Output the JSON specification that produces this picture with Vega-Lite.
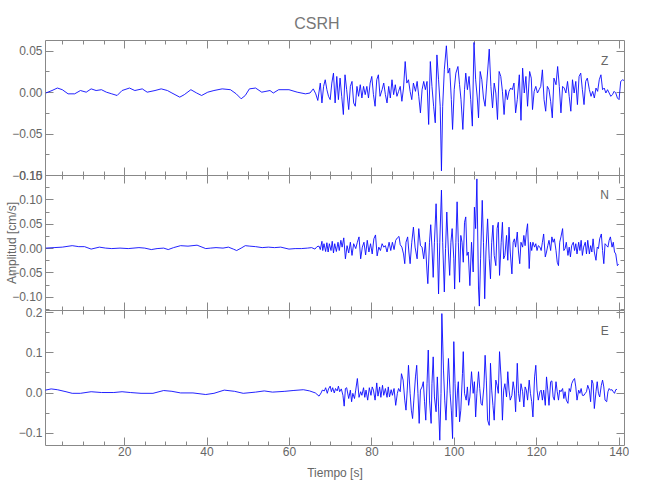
{
"$schema": "https://vega.github.io/schema/vega-lite/v6.json",
"background": "white",
"padding": {"left": 4, "top": 15, "right": 0, "bottom": 30},
"title": {"text": "CSRH", "fontSize": 16, "fontWeight": "normal", "color": "#777777", "font": "Liberation Sans", "anchor": "middle", "offset": 8},
"config": {
 "view": {"stroke": null},
 "font": "Liberation Sans",
 "axis": {"domainColor": "#888888", "tickColor": "#888888", "labelColor": "#666666", "titleColor": "#666666", "labelFont": "Liberation Sans", "titleFont": "Liberation Sans", "labelFontSize": 12, "titleFontSize": 12, "titleFontWeight": "normal", "grid": false, "domainWidth": 1, "tickWidth": 1}
},
"datasets": {
"Z": [
{"t":1,"v":-0.001},{"t":2.5,"v":0.002},{"t":3.8,"v":0.005},{"t":5,"v":0.003},{"t":6.4,"v":-0.002},{"t":8,"v":-0.002},{"t":9.4,"v":0.002},{"t":10.8,"v":0},{"t":12,"v":0.004},{"t":13.2,"v":0.002},{"t":14.5,"v":0.003},{"t":15.7,"v":0},{"t":17,"v":-0.002},{"t":18.3,"v":-0.004},{"t":19.5,"v":0.002},{"t":21.3,"v":0.005},{"t":22.6,"v":0.002},{"t":24.4,"v":0.004},{"t":25.6,"v":0},{"t":27.5,"v":0.002},{"t":29,"v":0.004},{"t":30.5,"v":0.002},{"t":31.6,"v":-0.001},{"t":33.5,"v":-0.006},{"t":34.6,"v":-0.003},{"t":36.2,"v":0.003},{"t":37.6,"v":-0.001},{"t":38.8,"v":-0.004},{"t":40.3,"v":0},{"t":41.8,"v":0.002},{"t":43.8,"v":0.004},{"t":45.8,"v":0.003},{"t":47.2,"v":-0.002},{"t":48.4,"v":-0.008},{"t":49.4,"v":-0.004},{"t":50.4,"v":0.004},{"t":51.9,"v":0.005},{"t":53.4,"v":0},{"t":55.4,"v":0.002},{"t":56.2,"v":-0.001},{"t":57.5,"v":0.003},{"t":60,"v":0.003},{"t":62,"v":0},{"t":64,"v":-0.002},{"t":65.1,"v":-0.001},{"t":65.9,"v":0.004},{"t":66.5,"v":-0.002},{"t":67,"v":-0.01},
{"t":67.6,"v":0.011},{"t":68.0,"v":-0.013},{"t":68.4,"v":0.007},{"t":68.8,"v":0.015},{"t":69.2,"v":0.003},{"t":69.6,"v":-0.005},{"t":70.0,"v":-0.009},{"t":70.4,"v":0.011},{"t":70.8,"v":0.023},{"t":71.2,"v":-0.013},{"t":71.6,"v":0.019},{"t":72.0,"v":-0.009},{"t":72.4,"v":0.017},{"t":72.8,"v":-0.005},{"t":73.2,"v":-0.027},{"t":73.6,"v":0.021},{"t":74.0,"v":0.003},{"t":74.5,"v":-0.021},{"t":74.9,"v":0.007},{"t":75.3,"v":0.013},{"t":75.7,"v":-0.013},{"t":76.1,"v":-0.017},{"t":76.5,"v":0.007},{"t":76.9,"v":-0.005},{"t":77.3,"v":0.009},{"t":77.7,"v":-0.007},{"t":78.1,"v":0.007},{"t":78.5,"v":-0.003},{"t":78.9,"v":0.007},{"t":79.3,"v":-0.007},{"t":79.7,"v":0.011},{"t":80.1,"v":0.019},{"t":80.5,"v":-0.003},{"t":80.9,"v":-0.017},{"t":81.3,"v":0.015},{"t":81.7,"v":0.021},{"t":82.1,"v":-0.005},{"t":82.6,"v":0.003},{"t":83.0,"v":0.011},{"t":83.4,"v":-0.003},{"t":83.8,"v":-0.013},{"t":84.2,"v":0.007},{"t":84.6,"v":-0.007},{"t":85.0,"v":0.015},{"t":85.4,"v":-0.003},{"t":85.8,"v":0.009},{"t":86.2,"v":-0.005},{"t":86.6,"v":0.001},{"t":87.0,"v":0.007},{"t":87.4,"v":-0.011},{"t":87.8,"v":0.005},{"t":88.2,"v":0.037},{"t":88.6,"v":0.011},{"t":89.0,"v":0.015},{"t":89.4,"v":0.001},{"t":89.8,"v":-0.009},{"t":90.2,"v":0.011},{"t":90.7,"v":0.001},{"t":91.1,"v":0.013},{"t":91.5,"v":-0.005},{"t":91.9,"v":-0.025},{"t":92.3,"v":0.003},{"t":92.7,"v":0.013},{"t":93.1,"v":0.003},{"t":93.5,"v":0.013},{"t":93.9,"v":-0.039},{"t":94.3,"v":0.037},{"t":94.7,"v":0.007},{"t":95.1,"v":-0.017},{"t":95.5,"v":-0.037},{"t":95.9,"v":0.045},{"t":96.3,"v":0.015},{"t":96.7,"v":-0.017},{"t":97.0,"v":-0.095},{"t":97.3,"v":-0.017},{"t":97.7,"v":0.027},{"t":98.2,"v":0.056},{"t":98.6,"v":0.023},{"t":99.0,"v":0.029},{"t":99.4,"v":-0.009},{"t":99.7,"v":-0.045},{"t":100.1,"v":0.003},{"t":100.5,"v":0.023},{"t":101.0,"v":0.031},{"t":101.4,"v":0.009},{"t":101.75,"v":-0.009},{"t":102.2,"v":-0.045},{"t":102.6,"v":0.003},{"t":102.9,"v":0.023},{"t":103.3,"v":0.003},{"t":103.7,"v":0.019},{"t":104.1,"v":-0.009},{"t":104.5,"v":-0.041},{"t":104.9,"v":0.06},{"t":105.3,"v":0.015},{"t":105.7,"v":-0.007},{"t":106.0,"v":-0.031},{"t":106.4,"v":0.025},{"t":106.8,"v":0.015},{"t":107.2,"v":-0.007},{"t":107.6,"v":-0.017},{"t":108.0,"v":0.011},{"t":108.6,"v":0.052},{"t":109.0,"v":0.007},{"t":109.4,"v":-0.019},{"t":109.8,"v":0.011},{"t":110.2,"v":-0.001},{"t":110.6,"v":-0.033},{"t":111.0,"v":0.025},{"t":111.4,"v":0.019},{"t":111.8,"v":0.001},{"t":112.2,"v":-0.027},{"t":112.6,"v":0.003},{"t":113.0,"v":-0.009},{"t":113.4,"v":0.001},{"t":113.8,"v":0.005},{"t":114.2,"v":0.003},{"t":114.6,"v":0.011},{"t":115.0,"v":-0.025},{"t":115.4,"v":-0.009},{"t":115.9,"v":0.021},{"t":116.3,"v":-0.034},{"t":116.7,"v":0.029},{"t":117.1,"v":-0.001},{"t":117.5,"v":0.019},{"t":117.9,"v":-0.017},{"t":118.4,"v":0.025},{"t":118.8,"v":0.017},{"t":119.1,"v":-0.021},{"t":119.5,"v":0.001},{"t":119.9,"v":0.007},{"t":120.3,"v":-0.001},{"t":120.7,"v":0.003},{"t":121.1,"v":0.007},{"t":121.5,"v":0.027},{"t":121.9,"v":-0.009},{"t":122.3,"v":-0.023},{"t":122.7,"v":0.007},{"t":123.1,"v":0.003},{"t":123.5,"v":-0.011},{"t":123.9,"v":-0.031},{"t":124.3,"v":0.017},{"t":124.8,"v":0.009},{"t":125.2,"v":0.031},{"t":125.6,"v":0.007},{"t":126.0,"v":-0.025},{"t":126.4,"v":0.007},{"t":126.8,"v":0.005},{"t":127.2,"v":-0.001},{"t":127.6,"v":0.013},{"t":128.0,"v":-0.005},{"t":128.4,"v":-0.023},{"t":128.8,"v":0.015},{"t":129.2,"v":-0.001},{"t":129.6,"v":0.013},{"t":130.0,"v":-0.015},{"t":130.4,"v":0.019},{"t":130.8,"v":0.023},{"t":131.2,"v":0.003},{"t":131.6,"v":-0.015},{"t":132.0,"v":0.013},{"t":132.4,"v":0.017},{"t":132.9,"v":0.003},{"t":133.3,"v":-0.005},{"t":133.7,"v":0.001},{"t":134.1,"v":-0.007},{"t":134.5,"v":0.005},{"t":134.9,"v":0.001},{"t":135.3,"v":0.015},{"t":135.7,"v":0.021},{"t":136.1,"v":0.003},{"t":136.5,"v":0.005},{"t":136.9,"v":-0.001},{"t":137.3,"v":0.003},{"t":137.7,"v":-0.001},{"t":138.1,"v":-0.005},{"t":138.5,"v":-0.003},{"t":138.9,"v":0.001},{"t":139.3,"v":-0.001},{"t":139.7,"v":-0.007},{"t":140.1,"v":-0.009},{"t":140.5,"v":0.013},{"t":141.0,"v":0.015},{"t":141.3,"v":0.014}
],
"N": [
{"t":1,"v":0},{"t":3,"v":0.001},{"t":5,"v":0.002},{"t":7.4,"v":0.005},{"t":9,"v":0.003},{"t":10.4,"v":0.003},{"t":12,"v":-0.002},{"t":14,"v":0.002},{"t":15.5,"v":0},{"t":17,"v":-0.001},{"t":19,"v":0},{"t":21,"v":-0.001},{"t":23.6,"v":0.001},{"t":25,"v":0},{"t":26.6,"v":-0.003},{"t":28,"v":-0.001},{"t":29.6,"v":0},{"t":30.7,"v":-0.003},{"t":32,"v":0.001},{"t":33.7,"v":0.005},{"t":35.5,"v":0.004},{"t":37.7,"v":0.006},{"t":39.8,"v":-0.001},{"t":41,"v":0},{"t":42.3,"v":0.001},{"t":44,"v":0},{"t":45.3,"v":0.002},{"t":46.5,"v":-0.002},{"t":47.3,"v":-0.005},{"t":48.4,"v":0},{"t":49.4,"v":0.005},{"t":50.5,"v":0.004},{"t":51.9,"v":0.003},{"t":53.5,"v":0.001},{"t":55,"v":0.002},{"t":56.5,"v":0.001},{"t":58,"v":0.002},{"t":60,"v":-0.002},{"t":61.5,"v":-0.001},{"t":63,"v":-0.001},{"t":64.5,"v":0},{"t":65.5,"v":0.001},{"t":66.3,"v":-0.002},{"t":66.8,"v":0.003},{"t":67.3,"v":0.004},
{"t":67.6,"v":-0.003},{"t":68.0,"v":0.014},{"t":68.2,"v":-0.005},{"t":68.5,"v":0.009},{"t":68.9,"v":-0.007},{"t":69.2,"v":0.011},{"t":69.5,"v":-0.008},{"t":69.8,"v":0.009},{"t":70.2,"v":-0.005},{"t":70.5,"v":0.014},{"t":70.8,"v":-0.01},{"t":71.1,"v":0.009},{"t":71.5,"v":-0.007},{"t":71.9,"v":0.012},{"t":72.2,"v":-0.005},{"t":72.6,"v":0.016},{"t":72.9,"v":0.002},{"t":73.3,"v":0.021},{"t":73.7,"v":-0.022},{"t":74.1,"v":0.005},{"t":74.5,"v":-0.01},{"t":74.9,"v":0.012},{"t":75.3,"v":-0.015},{"t":75.7,"v":0.009},{"t":76.2,"v":-0.001},{"t":76.6,"v":0.012},{"t":77.0,"v":0.023},{"t":77.4,"v":-0.022},{"t":77.8,"v":0.002},{"t":78.2,"v":0.012},{"t":78.6,"v":-0.014},{"t":79.0,"v":0.016},{"t":79.4,"v":-0.008},{"t":79.8,"v":0.009},{"t":80.2,"v":-0.012},{"t":80.6,"v":0.019},{"t":81.0,"v":0.027},{"t":81.4,"v":-0.016},{"t":81.8,"v":0.002},{"t":82.2,"v":-0.005},{"t":82.6,"v":0.009},{"t":83.0,"v":0.002},{"t":83.4,"v":0.005},{"t":83.8,"v":-0.008},{"t":84.3,"v":0.012},{"t":84.7,"v":-0.005},{"t":85.1,"v":0.012},{"t":85.5,"v":-0.003},{"t":85.9,"v":0.016},{"t":86.3,"v":0.021},{"t":86.7,"v":0.024},{"t":87.0,"v":0.007},{"t":87.4,"v":0.002},{"t":87.8,"v":-0.012},{"t":88.1,"v":-0.032},{"t":88.4,"v":0.012},{"t":88.8,"v":0.023},{"t":89.1,"v":-0.008},{"t":89.4,"v":-0.032},{"t":89.8,"v":0.012},{"t":90.2,"v":0.043},{"t":90.6,"v":0.002},{"t":91.1,"v":-0.022},{"t":91.5,"v":0.04},{"t":91.9,"v":0.005},{"t":92.3,"v":0.002},{"t":92.7,"v":-0.022},{"t":93.1,"v":0.012},{"t":93.5,"v":-0.049},{"t":93.7,"v":-0.073},{"t":94.1,"v":0.012},{"t":94.4,"v":0.048},{"t":94.7,"v":0.002},{"t":95.0,"v":-0.06},{"t":95.3,"v":0.012},{"t":95.7,"v":0.091},{"t":96.0,"v":0.012},{"t":96.3,"v":-0.094},{"t":96.6,"v":0.012},{"t":97.0,"v":0.119},{"t":97.3,"v":0.012},{"t":97.7,"v":-0.09},{"t":98.0,"v":-0.001},{"t":98.3,"v":0.074},{"t":98.7,"v":-0.008},{"t":99.0,"v":-0.056},{"t":99.3,"v":0.012},{"t":99.6,"v":0.04},{"t":100.0,"v":-0.022},{"t":100.2,"v":-0.084},{"t":100.5,"v":0.012},{"t":100.8,"v":0.095},{"t":101.1,"v":0.012},{"t":101.4,"v":-0.07},{"t":101.7,"v":0.026},{"t":102.0,"v":0.012},{"t":102.3,"v":-0.029},{"t":102.6,"v":0.053},{"t":102.9,"v":0.064},{"t":103.2,"v":-0.015},{"t":103.5,"v":-0.008},{"t":103.9,"v":-0.077},{"t":104.3,"v":0.012},{"t":104.7,"v":-0.049},{"t":105.0,"v":0.084},{"t":105.3,"v":0.04},{"t":105.6,"v":0.142},{"t":106.0,"v":-0.084},{"t":106.2,"v":-0.119},{"t":106.5,"v":-0.022},{"t":106.9,"v":0.098},{"t":107.2,"v":0.012},{"t":107.5,"v":-0.104},{"t":107.8,"v":-0.008},{"t":108.2,"v":0.06},{"t":108.6,"v":-0.022},{"t":108.9,"v":-0.063},{"t":109.2,"v":0.012},{"t":109.5,"v":0.047},{"t":109.8,"v":-0.015},{"t":110.2,"v":-0.036},{"t":110.5,"v":0.04},{"t":110.8,"v":0.053},{"t":111.1,"v":-0.056},{"t":111.5,"v":0.012},{"t":111.8,"v":0.053},{"t":112.1,"v":-0.022},{"t":112.4,"v":-0.015},{"t":112.8,"v":0.026},{"t":113.1,"v":-0.025},{"t":113.4,"v":0.043},{"t":113.7,"v":-0.008},{"t":114.1,"v":-0.053},{"t":114.4,"v":0.012},{"t":114.7,"v":0.019},{"t":115.0,"v":0.002},{"t":115.4,"v":0.033},{"t":115.7,"v":-0.008},{"t":116.0,"v":-0.032},{"t":116.3,"v":0.012},{"t":116.7,"v":0.002},{"t":117.0,"v":0.026},{"t":117.3,"v":0.005},{"t":117.6,"v":0.033},{"t":117.9,"v":0.05},{"t":118.3,"v":-0.042},{"t":118.6,"v":0.012},{"t":118.9,"v":-0.005},{"t":119.2,"v":0.012},{"t":119.6,"v":0.002},{"t":119.9,"v":0.009},{"t":120.2,"v":-0.005},{"t":120.5,"v":0.005},{"t":120.9,"v":0.002},{"t":121.2,"v":-0.005},{"t":121.5,"v":0.012},{"t":121.8,"v":0.029},{"t":122.2,"v":-0.018},{"t":122.5,"v":-0.008},{"t":122.8,"v":0.005},{"t":123.1,"v":0.016},{"t":123.5,"v":-0.005},{"t":123.8,"v":0.023},{"t":124.1,"v":0.012},{"t":124.4,"v":0.019},{"t":124.8,"v":-0.005},{"t":125.1,"v":-0.029},{"t":125.4,"v":-0.036},{"t":125.7,"v":0.012},{"t":126.0,"v":0.023},{"t":126.4,"v":0.04},{"t":126.7,"v":-0.005},{"t":127.0,"v":-0.001},{"t":127.3,"v":0.012},{"t":127.7,"v":-0.015},{"t":128.0,"v":0.002},{"t":128.3,"v":-0.018},{"t":128.6,"v":0.005},{"t":129.0,"v":0.012},{"t":129.3,"v":-0.005},{"t":129.6,"v":0.009},{"t":129.9,"v":-0.012},{"t":130.3,"v":0.012},{"t":130.6,"v":-0.005},{"t":130.9,"v":0.016},{"t":131.2,"v":-0.015},{"t":131.5,"v":0.002},{"t":131.9,"v":0.012},{"t":132.2,"v":-0.012},{"t":132.5,"v":0.016},{"t":132.9,"v":-0.012},{"t":133.2,"v":0.005},{"t":133.5,"v":-0.008},{"t":133.8,"v":0.019},{"t":134.1,"v":-0.008},{"t":134.5,"v":-0.025},{"t":134.8,"v":0.002},{"t":135.1,"v":-0.001},{"t":135.4,"v":0.019},{"t":135.8,"v":0.029},{"t":136.1,"v":-0.005},{"t":136.4,"v":-0.032},{"t":136.7,"v":0.009},{"t":137.1,"v":0.005},{"t":137.4,"v":0.002},{"t":137.7,"v":0.016},{"t":138.0,"v":0.023},{"t":138.4,"v":0.002},{"t":138.7,"v":0.012},{"t":139.0,"v":-0.008},{"t":139.3,"v":-0.012},{"t":139.7,"v":-0.036},{"t":140.0,"v":-0.033}
],
"E": [
{"t":0.9,"v":0.006},{"t":2.3,"v":0.009},{"t":3.8,"v":0.007},{"t":5.9,"v":0.002},{"t":7.4,"v":-0.002},{"t":9.4,"v":-0.002},{"t":12,"v":0.002},{"t":14.5,"v":0},{"t":17.5,"v":0},{"t":19.5,"v":0.002},{"t":21.5,"v":0},{"t":24.1,"v":-0.002},{"t":27,"v":-0.002},{"t":29.6,"v":0.005},{"t":31.6,"v":0.003},{"t":33.7,"v":-0.001},{"t":36.7,"v":-0.001},{"t":39.8,"v":-0.005},{"t":41.8,"v":-0.002},{"t":44.3,"v":0.006},{"t":46.8,"v":0.003},{"t":48.9,"v":-0.002},{"t":51.9,"v":0.001},{"t":54,"v":0.004},{"t":56,"v":0.001},{"t":59,"v":0.003},{"t":61,"v":0.005},{"t":63.5,"v":0.007},{"t":65,"v":0.004},{"t":66.4,"v":-0.001},{"t":67.3,"v":-0.009},{"t":67.8,"v":-0.001},
{"t":68.1,"v":0.006},{"t":68.6,"v":0.004},{"t":68.9,"v":0.012},{"t":69.3,"v":-0.002},{"t":69.6,"v":0.009},{"t":70.0,"v":0.016},{"t":70.3,"v":0.002},{"t":70.6,"v":0.012},{"t":71.0,"v":-0.001},{"t":71.3,"v":0.01},{"t":71.7,"v":0.004},{"t":72.0,"v":0.016},{"t":72.3,"v":0.002},{"t":72.7,"v":0.009},{"t":73.1,"v":-0.007},{"t":73.4,"v":-0.034},{"t":73.7,"v":0.01},{"t":74.0,"v":0.012},{"t":74.5,"v":-0.015},{"t":74.9,"v":0.006},{"t":75.2,"v":-0.023},{"t":75.5,"v":-0.002},{"t":75.9,"v":-0.015},{"t":76.2,"v":0.006},{"t":76.6,"v":0.035},{"t":77.0,"v":-0.012},{"t":77.4,"v":0.002},{"t":77.7,"v":-0.007},{"t":78.1,"v":0.012},{"t":78.4,"v":-0.012},{"t":78.7,"v":0.006},{"t":79.1,"v":-0.019},{"t":79.5,"v":0.012},{"t":79.9,"v":-0.007},{"t":80.2,"v":0.014},{"t":80.5,"v":0.006},{"t":80.9,"v":-0.019},{"t":81.3,"v":0.024},{"t":81.6,"v":-0.009},{"t":82.0,"v":0.014},{"t":82.3,"v":-0.012},{"t":82.7,"v":0.018},{"t":83.0,"v":-0.007},{"t":83.4,"v":0.01},{"t":83.8,"v":-0.012},{"t":84.1,"v":0.014},{"t":84.4,"v":-0.011},{"t":84.8,"v":0.007},{"t":85.1,"v":-0.007},{"t":85.5,"v":0.01},{"t":85.9,"v":-0.032},{"t":86.3,"v":-0.002},{"t":86.6,"v":0.01},{"t":87.0,"v":0.002},{"t":87.3,"v":0.047},{"t":87.7,"v":0.031},{"t":88.1,"v":-0.019},{"t":88.4,"v":-0.044},{"t":88.7,"v":0.006},{"t":89.0,"v":0.068},{"t":89.4,"v":-0.002},{"t":89.7,"v":-0.044},{"t":90.0,"v":-0.065},{"t":90.3,"v":-0.019},{"t":90.7,"v":0.039},{"t":91.0,"v":0.068},{"t":91.3,"v":-0.002},{"t":91.6,"v":-0.077},{"t":91.9,"v":0.006},{"t":92.3,"v":0.014},{"t":92.6,"v":0.027},{"t":92.9,"v":-0.023},{"t":93.2,"v":-0.069},{"t":93.5,"v":0.022},{"t":93.8,"v":0.106},{"t":94.1,"v":-0.019},{"t":94.5,"v":-0.077},{"t":94.7,"v":0.022},{"t":95.0,"v":0.089},{"t":95.3,"v":-0.011},{"t":95.7,"v":-0.048},{"t":96.0,"v":0.039},{"t":96.3,"v":-0.036},{"t":96.6,"v":-0.119},{"t":96.9,"v":-0.002},{"t":97.1,"v":0.197},{"t":97.5,"v":0.056},{"t":97.8,"v":-0.019},{"t":98.1,"v":-0.069},{"t":98.4,"v":0.006},{"t":98.7,"v":0.085},{"t":99.1,"v":-0.002},{"t":99.4,"v":-0.044},{"t":99.7,"v":-0.115},{"t":100.0,"v":0.127},{"t":100.3,"v":0.022},{"t":100.6,"v":-0.061},{"t":100.9,"v":0.006},{"t":101.1,"v":0.027},{"t":101.4,"v":-0.073},{"t":101.7,"v":-0.044},{"t":102.1,"v":0.047},{"t":102.3,"v":0.102},{"t":102.6,"v":-0.002},{"t":103.0,"v":-0.019},{"t":103.3,"v":0.014},{"t":103.6,"v":-0.032},{"t":103.9,"v":-0.011},{"t":104.3,"v":0.052},{"t":104.7,"v":-0.002},{"t":105.0,"v":0.027},{"t":105.3,"v":-0.061},{"t":105.6,"v":-0.002},{"t":106.0,"v":0.052},{"t":106.3,"v":0.01},{"t":106.6,"v":-0.027},{"t":106.9,"v":-0.032},{"t":107.3,"v":0.014},{"t":107.6,"v":0.093},{"t":107.9,"v":0.031},{"t":108.2,"v":-0.069},{"t":108.6,"v":-0.082},{"t":108.9,"v":0.073},{"t":109.2,"v":0.006},{"t":109.5,"v":-0.032},{"t":109.8,"v":-0.069},{"t":110.2,"v":0.031},{"t":110.5,"v":0.018},{"t":110.8,"v":-0.002},{"t":111.1,"v":0.102},{"t":111.5,"v":0.031},{"t":111.8,"v":-0.069},{"t":112.1,"v":0.006},{"t":112.4,"v":0.022},{"t":112.8,"v":-0.011},{"t":113.1,"v":0.052},{"t":113.4,"v":0.006},{"t":113.7,"v":-0.019},{"t":114.1,"v":-0.007},{"t":114.4,"v":0.027},{"t":114.7,"v":0.006},{"t":115.0,"v":-0.048},{"t":115.4,"v":0.073},{"t":115.7,"v":-0.002},{"t":116.0,"v":-0.023},{"t":116.3,"v":0.022},{"t":116.7,"v":0.002},{"t":117.0,"v":-0.036},{"t":117.3,"v":0.014},{"t":117.6,"v":0.006},{"t":117.9,"v":-0.019},{"t":118.3,"v":0.031},{"t":118.6,"v":-0.002},{"t":118.9,"v":-0.023},{"t":119.2,"v":-0.061},{"t":119.6,"v":0.039},{"t":119.9,"v":0.068},{"t":120.2,"v":0.006},{"t":120.5,"v":-0.019},{"t":120.9,"v":0.002},{"t":121.2,"v":0.006},{"t":121.5,"v":-0.019},{"t":121.8,"v":0.006},{"t":122.2,"v":-0.032},{"t":122.5,"v":0.039},{"t":122.8,"v":0.006},{"t":123.1,"v":-0.032},{"t":123.5,"v":0.027},{"t":123.8,"v":0.029},{"t":124.1,"v":-0.011},{"t":124.4,"v":-0.019},{"t":124.8,"v":0.027},{"t":125.1,"v":0.002},{"t":125.4,"v":-0.019},{"t":125.7,"v":0.006},{"t":126.0,"v":0.002},{"t":126.4,"v":0.01},{"t":126.7,"v":-0.015},{"t":127.0,"v":0.002},{"t":127.3,"v":-0.019},{"t":127.7,"v":-0.027},{"t":128.0,"v":0.01},{"t":128.3,"v":0.002},{"t":128.6,"v":0.022},{"t":129.0,"v":0.031},{"t":129.3,"v":0.035},{"t":129.6,"v":0.014},{"t":129.9,"v":-0.019},{"t":130.3,"v":0.006},{"t":130.6,"v":-0.002},{"t":130.9,"v":0.01},{"t":131.2,"v":-0.007},{"t":131.6,"v":-0.007},{"t":131.9,"v":-0.002},{"t":132.2,"v":0.002},{"t":132.5,"v":0.018},{"t":132.9,"v":0.006},{"t":133.2,"v":-0.023},{"t":133.5,"v":0.031},{"t":133.8,"v":0.022},{"t":134.1,"v":-0.04},{"t":134.5,"v":0.002},{"t":134.8,"v":0.027},{"t":135.1,"v":-0.002},{"t":135.4,"v":-0.011},{"t":135.8,"v":0.018},{"t":136.1,"v":0.031},{"t":136.4,"v":0.014},{"t":136.7,"v":-0.019},{"t":137.1,"v":-0.023},{"t":137.4,"v":0.002},{"t":137.7,"v":0.01},{"t":138.0,"v":0.006},{"t":138.4,"v":0.007},{"t":138.7,"v":0.002},{"t":139.0,"v":-0.002},{"t":139.3,"v":0.007},{"t":139.6,"v":0.008}
]
},
"vconcat": [
{
 "width": 579, "height": 135,
 "layer": [
  {"data": {"name": "Z"}, "mark": {"type": "line", "color": "#0a0aff", "strokeWidth": 0.9, "clip": true},
   "encoding": {
    "x": {"field": "t", "type": "quantitative", "scale": {"domain": [0.8, 141.3], "nice": false, "zero": false}, "axis": {"orient": "bottom", "values": [20,40,60,80,100,120,140], "tickSize": -8, "labels": false, "title": null}},
    "y": {"field": "v", "type": "quantitative", "scale": {"domain": [-0.1, 0.063], "nice": false, "zero": false}, "axis": {"orient": "left", "values": [-0.1,-0.05,0,0.05], "format": ".2f", "tickSize": -8, "labelPadding": 11, "title": null}}
   }},
  {"data": {"values": [{"t": 50, "v": 0}]}, "mark": {"type": "point", "opacity": 0},
   "encoding": {
    "x": {"field": "t", "type": "quantitative", "scale": {"domain": [0.8, 141.3], "nice": false, "zero": false}, "axis": {"orient": "top", "values": [20,40,60,80,100,120,140], "tickSize": -8, "labels": false, "title": null}},
    "y": {"field": "v", "type": "quantitative", "scale": {"domain": [-0.1, 0.063], "nice": false, "zero": false}, "axis": {"orient": "right", "values": [-0.1,-0.05,0,0.05], "tickSize": -8, "labels": false, "title": null}}
   }},
  {"data": {"values": [{"t": 50, "v": 0}]}, "mark": {"type": "point", "opacity": 0},
   "encoding": {
    "x": {"field": "t", "type": "quantitative", "scale": {"domain": [0.8, 141.3], "nice": false, "zero": false}, "axis": {"orient": "bottom", "values": [5,10,15,25,30,35,45,50,55,65,70,75,85,90,95,105,110,115,125,130,135], "tickSize": -4, "labels": false, "domain": false, "title": null}},
    "y": {"field": "v", "type": "quantitative", "scale": {"domain": [-0.1, 0.063], "nice": false, "zero": false}, "axis": {"orient": "left", "values": [-0.075,-0.025,0.025], "tickSize": -4, "labels": false, "domain": false, "title": null}}
   }},
  {"data": {"values": [{"t": 50, "v": 0}]}, "mark": {"type": "point", "opacity": 0},
   "encoding": {
    "x": {"field": "t", "type": "quantitative", "scale": {"domain": [0.8, 141.3], "nice": false, "zero": false}, "axis": {"orient": "top", "values": [5,10,15,25,30,35,45,50,55,65,70,75,85,90,95,105,110,115,125,130,135], "tickSize": -4, "labels": false, "domain": false, "title": null}},
    "y": {"field": "v", "type": "quantitative", "scale": {"domain": [-0.1, 0.063], "nice": false, "zero": false}, "axis": {"orient": "right", "values": [-0.075,-0.025,0.025], "tickSize": -4, "labels": false, "domain": false, "title": null}}
   }},
  {"data": {"values": [{"lab": "Z"}]}, "mark": {"type": "text", "fontSize": 12, "color": "#666666", "align": "center", "baseline": "middle"},
   "encoding": {
    "x": {"datum": 136.6, "type": "quantitative", "axis": null},
    "y": {"datum": 0.038, "type": "quantitative", "axis": null},
    "text": {"field": "lab"}
   }}
 ],
 "resolve": {"axis": {"x": "independent", "y": "independent"}}
},
{
 "width": 579, "height": 135,
 "layer": [
  {"data": {"name": "N"}, "mark": {"type": "line", "color": "#0a0aff", "strokeWidth": 0.9, "clip": true},
   "encoding": {
    "x": {"field": "t", "type": "quantitative", "scale": {"domain": [0.8, 141.3], "nice": false, "zero": false}, "axis": {"orient": "bottom", "values": [20,40,60,80,100,120,140], "tickSize": -8, "labels": false, "title": null}},
    "y": {"field": "v", "type": "quantitative", "scale": {"domain": [-0.127, 0.15], "nice": false, "zero": false}, "axis": {"orient": "left", "values": [-0.1,-0.05,0,0.05,0.1,0.15], "format": ".2f", "tickSize": -8, "labelPadding": 11, "title": "Amplitud [cm/s]", "titleX": -27}}
   }},
  {"data": {"values": [{"t": 50, "v": 0}]}, "mark": {"type": "point", "opacity": 0},
   "encoding": {
    "x": {"field": "t", "type": "quantitative", "scale": {"domain": [0.8, 141.3], "nice": false, "zero": false}, "axis": {"orient": "top", "values": [20,40,60,80,100,120,140], "tickSize": -8, "labels": false, "title": null}},
    "y": {"field": "v", "type": "quantitative", "scale": {"domain": [-0.127, 0.15], "nice": false, "zero": false}, "axis": {"orient": "right", "values": [-0.1,-0.05,0,0.05,0.1,0.15], "tickSize": -8, "labels": false, "title": null}}
   }},
  {"data": {"values": [{"t": 50, "v": 0}]}, "mark": {"type": "point", "opacity": 0},
   "encoding": {
    "x": {"field": "t", "type": "quantitative", "scale": {"domain": [0.8, 141.3], "nice": false, "zero": false}, "axis": {"orient": "bottom", "values": [5,10,15,25,30,35,45,50,55,65,70,75,85,90,95,105,110,115,125,130,135], "tickSize": -4, "labels": false, "domain": false, "title": null}},
    "y": {"field": "v", "type": "quantitative", "scale": {"domain": [-0.127, 0.15], "nice": false, "zero": false}, "axis": {"orient": "left", "values": [-0.125,-0.075,-0.025,0.025,0.075,0.125], "tickSize": -4, "labels": false, "domain": false, "title": null}}
   }},
  {"data": {"values": [{"t": 50, "v": 0}]}, "mark": {"type": "point", "opacity": 0},
   "encoding": {
    "x": {"field": "t", "type": "quantitative", "scale": {"domain": [0.8, 141.3], "nice": false, "zero": false}, "axis": {"orient": "top", "values": [5,10,15,25,30,35,45,50,55,65,70,75,85,90,95,105,110,115,125,130,135], "tickSize": -4, "labels": false, "domain": false, "title": null}},
    "y": {"field": "v", "type": "quantitative", "scale": {"domain": [-0.127, 0.15], "nice": false, "zero": false}, "axis": {"orient": "right", "values": [-0.125,-0.075,-0.025,0.025,0.075,0.125], "tickSize": -4, "labels": false, "domain": false, "title": null}}
   }},
  {"data": {"values": [{"lab": "N"}]}, "mark": {"type": "text", "fontSize": 12, "color": "#666666", "align": "center", "baseline": "middle"},
   "encoding": {
    "x": {"datum": 136.6, "type": "quantitative", "axis": null},
    "y": {"datum": 0.108, "type": "quantitative", "axis": null},
    "text": {"field": "lab"}
   }}
 ],
 "resolve": {"axis": {"x": "independent", "y": "independent"}}
},
{
 "width": 579, "height": 135,
 "layer": [
  {"data": {"name": "E"}, "mark": {"type": "line", "color": "#0a0aff", "strokeWidth": 0.9, "clip": true},
   "encoding": {
    "x": {"field": "t", "type": "quantitative", "scale": {"domain": [0.8, 141.3], "nice": false, "zero": false}, "axis": {"orient": "bottom", "values": [20,40,60,80,100,120,140], "tickSize": -8, "labelPadding": 9, "title": "Tiempo [s]", "titlePadding": 10}},
    "y": {"field": "v", "type": "quantitative", "scale": {"domain": [-0.131, 0.206], "nice": false, "zero": false}, "axis": {"orient": "left", "values": [-0.1,0,0.1,0.2], "format": ".1f", "tickSize": -8, "labelPadding": 11, "title": null}}
   }},
  {"data": {"values": [{"t": 50, "v": 0}]}, "mark": {"type": "point", "opacity": 0},
   "encoding": {
    "x": {"field": "t", "type": "quantitative", "scale": {"domain": [0.8, 141.3], "nice": false, "zero": false}, "axis": {"orient": "top", "values": [20,40,60,80,100,120,140], "tickSize": -8, "labels": false, "title": null}},
    "y": {"field": "v", "type": "quantitative", "scale": {"domain": [-0.131, 0.206], "nice": false, "zero": false}, "axis": {"orient": "right", "values": [-0.1,0,0.1,0.2], "tickSize": -8, "labels": false, "title": null}}
   }},
  {"data": {"values": [{"t": 50, "v": 0}]}, "mark": {"type": "point", "opacity": 0},
   "encoding": {
    "x": {"field": "t", "type": "quantitative", "scale": {"domain": [0.8, 141.3], "nice": false, "zero": false}, "axis": {"orient": "bottom", "values": [5,10,15,25,30,35,45,50,55,65,70,75,85,90,95,105,110,115,125,130,135], "tickSize": -4, "labels": false, "domain": false, "title": null}},
    "y": {"field": "v", "type": "quantitative", "scale": {"domain": [-0.131, 0.206], "nice": false, "zero": false}, "axis": {"orient": "left", "values": [-0.05,0.05,0.15], "tickSize": -4, "labels": false, "domain": false, "title": null}}
   }},
  {"data": {"values": [{"t": 50, "v": 0}]}, "mark": {"type": "point", "opacity": 0},
   "encoding": {
    "x": {"field": "t", "type": "quantitative", "scale": {"domain": [0.8, 141.3], "nice": false, "zero": false}, "axis": {"orient": "top", "values": [5,10,15,25,30,35,45,50,55,65,70,75,85,90,95,105,110,115,125,130,135], "tickSize": -4, "labels": false, "domain": false, "title": null}},
    "y": {"field": "v", "type": "quantitative", "scale": {"domain": [-0.131, 0.206], "nice": false, "zero": false}, "axis": {"orient": "right", "values": [-0.05,0.05,0.15], "tickSize": -4, "labels": false, "domain": false, "title": null}}
   }},
  {"data": {"values": [{"lab": "E"}]}, "mark": {"type": "text", "fontSize": 12, "color": "#666666", "align": "center", "baseline": "middle"},
   "encoding": {
    "x": {"datum": 136.6, "type": "quantitative", "axis": null},
    "y": {"datum": 0.154, "type": "quantitative", "axis": null},
    "text": {"field": "lab"}
   }}
 ],
 "resolve": {"axis": {"x": "independent", "y": "independent"}}
}
],
"spacing": 0,
"bounds": "flush"
}
